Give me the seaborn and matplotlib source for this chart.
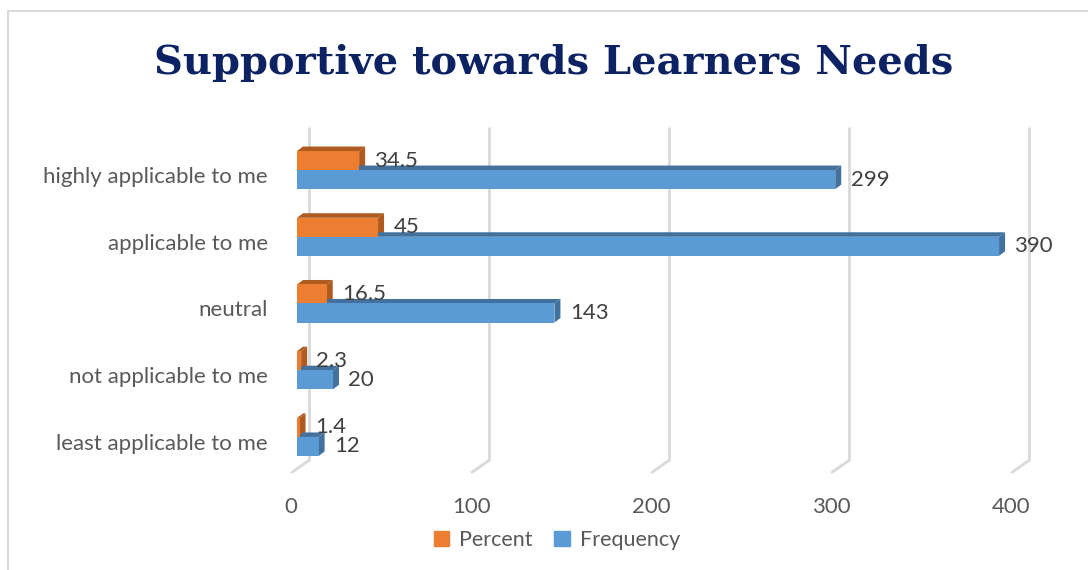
import matplotlib
matplotlib.use('Agg')
import matplotlib.pyplot as plt
import matplotlib.transforms as mtransforms
from matplotlib.patches import Polygon
from matplotlib.lines import Line2D
import pandas as pd
import seaborn as sns

categorias = ['highly applicable to me', 'applicable to me', 'neutral',
              'not applicable to me', 'least applicable to me']
percent = [34.5, 45, 16.5, 2.3, 1.4]
frequency = [299, 390, 143, 20, 12]
series = ['Percent', 'Frequency']
ticks_x = [0, 100, 200, 300, 400]

cores = {'Percent': '#ED7D31', 'Frequency': '#5B9BD5'}
cores_lado = {'Percent': '#AE5A21', 'Frequency': '#41719C'}

df = pd.DataFrame({
    'Categoria': categorias * 2,
    'Serie': ['Percent'] * len(categorias) + ['Frequency'] * len(categorias),
    'Valor': percent + frequency,
})

sns.set_theme(style='white')
plt.rcParams['font.family'] = ['Lato', 'DejaVu Sans']

fig = plt.figure(figsize=(10.88, 5.70), dpi=100)
ax = fig.add_axes([0.273, 0.1749, 0.6618, 0.5853])

sns.barplot(data=df, y='Categoria', x='Valor', hue='Serie', order=categorias,
            hue_order=series, palette=cores, width=0.57, saturation=1,
            ax=ax, zorder=3, legend=False, edgecolor='none', linewidth=0)

ax.set_xlim(0, 400)
ax.set_ylim(4.5, -0.5)

# pixel -> dados (escala aproximada)
px_x = 400 / 720
px_y = 5 / 333.6
dx, dy = 6 * px_x, 4.5 * px_y

# faces 3D (topo e lado) de cada barra
for serie, cont in zip(series, ax.containers):
    for p in cont:
        x0, y0 = p.get_x(), p.get_y()
        w, h = p.get_width(), p.get_height()
        x1 = x0 + w
        topo = Polygon([(x0, y0), (x0 + dx, y0 - dy), (x1 + dx, y0 - dy), (x1, y0)],
                       closed=True, facecolor=cores_lado[serie], edgecolor='none', zorder=2)
        lado = Polygon([(x1, y0), (x1 + dx, y0 - dy), (x1 + dx, y0 + h - dy), (x1, y0 + h)],
                       closed=True, facecolor=cores_lado[serie], edgecolor='none', zorder=2)
        ax.add_patch(topo)
        ax.add_patch(lado)
    ax.bar_label(cont, labels=[f'{v:g}' for v in cont.datavalues], padding=11,
                 fontsize=16, color='#404040', zorder=5)

# linhas de grade no fundo com "pé" inclinado
y_base = 4.5 - 10 * px_y
for t in ticks_x:
    xb = t + 12 * px_x
    ax.add_line(Line2D([xb, xb], [-0.5 - 9 * px_y, y_base], color='#D9D9D9',
                       lw=2, zorder=1, clip_on=False))
    ax.add_line(Line2D([xb, t - 5 * px_x], [y_base, 4.5 + 2 * px_y], color='#D9D9D9',
                       lw=2, zorder=1, clip_on=False))

for s in ax.spines.values():
    s.set_visible(False)
ax.set_xticks(ticks_x)
ax.tick_params(axis='x', length=0, pad=19, labelsize=16, labelcolor='#595959')
ax.tick_params(axis='y', length=0, pad=21, labelsize=16, labelcolor='#595959')
ax.set_xlabel('')
ax.set_ylabel('')

# desloca rótulos (plano frontal da perspectiva)
desl_x = mtransforms.ScaledTranslation(-6 / 100, 0, fig.dpi_scale_trans)
for lbl in ax.get_xticklabels():
    lbl.set_transform(lbl.get_transform() + desl_x)
desl_y = mtransforms.ScaledTranslation(0, -5 / 100, fig.dpi_scale_trans)
for lbl in ax.get_yticklabels():
    lbl.set_transform(lbl.get_transform() + desl_y)

fig.text(0.509, 0.89, 'Supportive towards Learners Needs', ha='center', va='center',
         fontsize=28.8, fontweight='bold', color='#0D2263', family='DejaVu Serif')

handles = [plt.Rectangle((0, 0), 1, 1, color=cores[s]) for s in series]
fig.legend(handles, series, loc='center', bbox_to_anchor=(0.512, 0.053), ncol=2,
           frameon=False, fontsize=15.5, labelcolor='#595959', handlelength=0.7,
           handleheight=0.7, columnspacing=1.0, handletextpad=0.5)

# moldura
fig.add_artist(Line2D([8 / 1088, 1], [1 - 11 / 570, 1 - 11 / 570], color='#D9D9D9', lw=1.5))
fig.add_artist(Line2D([8 / 1088, 8 / 1088], [0, 1 - 11 / 570], color='#D9D9D9', lw=1.5))

fig.savefig('out.png', dpi=100)
